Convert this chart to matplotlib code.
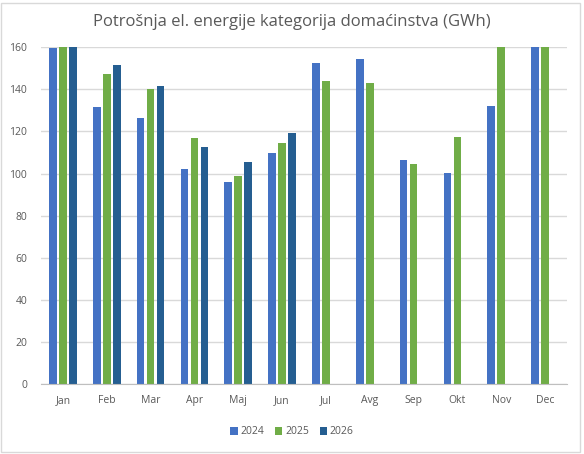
import numpy as np
import matplotlib
matplotlib.use("Agg")
import matplotlib.pyplot as plt
from matplotlib.patches import Rectangle

months = ["Jan", "Feb", "Mar", "Apr", "Maj", "Jun", "Jul", "Avg", "Sep", "Okt", "Nov", "Dec"]
years = ["2024", "2025", "2026"]
# bars above 160 are cut off in the original, values there are estimates
v2024 = [159.5, 131.6, 126.3, 102.0, 95.9, 109.7, 152.5, 154.4, 106.3, 100.1, 132.0, 172.0]
v2025 = [171.0, 147.3, 140.0, 116.8, 98.7, 114.4, 144.0, 143.0, 104.4, 117.3, 168.0, 170.0]
v2026 = [173.0, 151.6, 141.6, 112.5, 105.4, 119.2, np.nan, np.nan, np.nan, np.nan, np.nan, np.nan]
colors = ["#4472C4", "#70AD47", "#255E91"]

title = "Potrošnja el. energije kategorija domaćinstva (GWh)"
grey = "#595959"

plt.rcParams["font.family"] = ["Open Sans", "DejaVu Sans"]

fig = plt.figure(figsize=(5.84, 4.54), dpi=100)
fig.patches.append(Rectangle((0.002, 0.004), 0.992, 0.99, transform=fig.transFigure,
                             fill=False, edgecolor="#D9D9D9", linewidth=1))
ax = fig.add_axes([41 / 584, 1 - 384 / 454, 526 / 584, (384 - 47.3) / 454])

x = np.arange(len(months))
step = 0.228
width = 0.176
for j, (vals, c) in enumerate(zip([v2024, v2025, v2026], colors)):
    ax.bar(x + (j - 1) * step, vals, width=width, color=c, label=years[j], zorder=3)

ax.set_xlim(-0.5, len(months) - 0.5)
ax.set_ylim(0, 160)
ax.set_yticks(range(0, 161, 20))
ax.set_xticks(x)
ax.set_xticklabels(months)
ax.tick_params(axis="both", length=0, labelsize=7.5, labelcolor=grey)
ax.tick_params(axis="x", pad=8)
ax.tick_params(axis="y", pad=10)
ax.grid(axis="y", color="#D9D9D9", linewidth=1, zorder=0)
for s in ["top", "right", "left"]:
    ax.spines[s].set_visible(False)
ax.spines["bottom"].set_color("#BFBFBF")
ax.spines["bottom"].set_zorder(4)

fig.text(0.5, 1 - 22 / 454, title, ha="center", va="center", fontsize=12, color=grey)

leg = fig.legend(loc="center", bbox_to_anchor=(0.5, 1 - 432 / 454), ncol=3, frameon=False,
                 fontsize=7.5, handlelength=0.7, handleheight=0.7, handletextpad=0.3,
                 columnspacing=1.0)
for t in leg.get_texts():
    t.set_color(grey)

fig.savefig("out.png", dpi=100)
